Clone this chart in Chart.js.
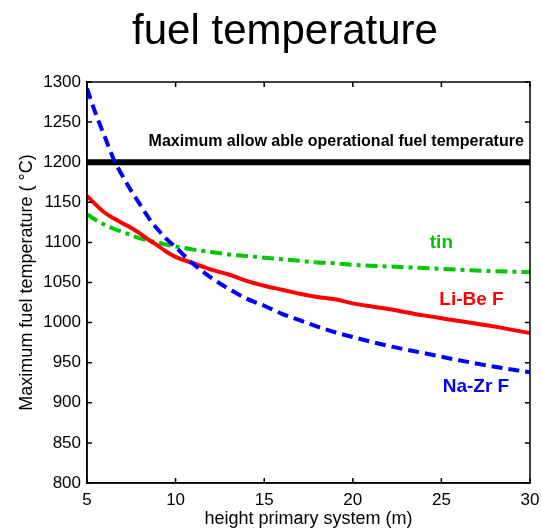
<!DOCTYPE html>
<html>
<head>
<meta charset="utf-8">
<script src="https://cdn.jsdelivr.net/npm/chart.js@4.4.1/dist/chart.umd.min.js"></script>
<style>
  html, body { margin: 0; padding: 0; background: #fff; }
  canvas { display: block; }
</style>
</head>
<body>
<canvas id="chart" width="541" height="532"></canvas>
<script>
// heights of the primary system (m)
const heights = [5, 5.5, 6, 6.5, 7, 7.5, 8, 8.5, 9, 9.5, 10, 11, 12, 13, 14, 15, 16, 17, 18, 19, 20, 22, 24, 26, 28, 30];

// maximum fuel temperature (C) per coolant
const naZrF = [1292, 1260, 1232, 1204, 1183, 1164, 1147, 1130, 1116, 1104, 1094, 1073, 1056, 1042, 1030, 1021, 1011, 1003, 995, 988, 982, 971, 962, 953, 945, 938];
const liBeF = [1158, 1147, 1137, 1130, 1124, 1118, 1111, 1103, 1096, 1088, 1082, 1074, 1066, 1060, 1052, 1046, 1041, 1036, 1032, 1029, 1024, 1017, 1009, 1002, 995, 987];
const tin = [1135, 1128, 1122, 1117, 1113, 1109, 1105, 1102, 1100, 1097, 1095, 1091, 1088, 1085, 1083, 1081, 1079, 1077, 1075, 1074, 1072, 1070, 1068, 1066, 1064, 1063];

const limitX = [5, 30];
const limitTemp = [1200, 1200];

const xTicks = [5, 10, 15, 20, 25, 30];
const yTicks = [800, 850, 900, 950, 1000, 1050, 1100, 1150, 1200, 1250, 1300];

const chartTitle = "fuel temperature";
const limitLabel = "Maximum allow able operational fuel temperature";

// curve labels, anchored in data units
const notes = [
  { text: "tin", x: 25.0, y: 1100, color: "#00c800" },
  { text: "Li-Be F", x: 26.7, y: 1029, color: "#ff0000" },
  { text: "Na-Zr F", x: 26.95, y: 920, color: "#0000ff" }
];

const font = "'Liberation Sans', Arial, Helvetica, sans-serif";

function pts(xs, ys) {
  return xs.map((x, i) => ({ x: x, y: ys[i] }));
}

const frame = {
  id: "frame",
  afterDraw(chart) {
    const ctx = chart.ctx;
    const a = chart.chartArea;
    const sx = chart.scales.x;
    const sy = chart.scales.y;
    ctx.save();
    ctx.strokeStyle = "#000";
    ctx.lineWidth = 1.5;
    ctx.strokeRect(a.left, a.top, a.right - a.left, a.bottom - a.top);
    ctx.beginPath();
    xTicks.forEach((v) => {
      const p = sx.getPixelForValue(v);
      ctx.moveTo(p, a.bottom); ctx.lineTo(p, a.bottom - 5);
      ctx.moveTo(p, a.top); ctx.lineTo(p, a.top + 5);
    });
    yTicks.forEach((v) => {
      const p = sy.getPixelForValue(v);
      ctx.moveTo(a.left, p); ctx.lineTo(a.left + 5, p);
      ctx.moveTo(a.right, p); ctx.lineTo(a.right - 5, p);
    });
    ctx.stroke();

    ctx.fillStyle = "#000";
    ctx.textBaseline = "alphabetic";
    ctx.textAlign = "center";
    ctx.font = "42px " + font;
    ctx.fillText(chartTitle, 285, 44);

    ctx.font = "bold 16px " + font;
    ctx.textAlign = "right";
    ctx.textBaseline = "middle";
    ctx.fillText(limitLabel, sx.getPixelForValue(29.65), sy.getPixelForValue(1226));

    ctx.font = "bold 19px " + font;
    ctx.textAlign = "center";
    notes.forEach((n) => {
      ctx.fillStyle = n.color;
      ctx.fillText(n.text, sx.getPixelForValue(n.x), sy.getPixelForValue(n.y));
    });
    ctx.restore();
  }
};

new Chart(document.getElementById("chart"), {
  type: "line",
  data: {
    datasets: [
      {
        label: "Na-Zr F",
        data: pts(heights, naZrF),
        borderColor: "#0000ff",
        borderWidth: 4,
        borderDash: [11, 6],
        cubicInterpolationMode: "monotone"
      },
      {
        label: "Li-Be F",
        data: pts(heights, liBeF),
        borderColor: "#ff0000",
        borderWidth: 4,
        cubicInterpolationMode: "monotone"
      },
      {
        label: "tin",
        data: pts(heights, tin),
        borderColor: "#00c800",
        borderWidth: 4,
        borderDash: [12, 5, 4, 5],
        cubicInterpolationMode: "monotone"
      },
      {
        label: "limit",
        data: pts(limitX, limitTemp),
        borderColor: "#000",
        borderWidth: 6
      }
    ]
  },
  options: {
    responsive: false,
    animation: false,
    layout: { padding: { top: 82, right: 11, left: 0, bottom: 0 } },
    elements: { point: { radius: 0 }, line: { fill: false } },
    plugins: { legend: { display: false }, tooltip: { enabled: false } },
    scales: {
      x: {
        type: "linear",
        min: 5,
        max: 30,
        afterBuildTicks: (s) => { s.ticks = xTicks.map((v) => ({ value: v })); },
        afterFit: (s) => { s.height = 49; s.paddingLeft = 0; s.paddingRight = 0; },
        grid: { display: false, drawTicks: false },
        border: { display: true, color: "#000", width: 1.5 },
        ticks: { color: "#000", padding: 7, font: { family: font, size: 17 }, callback: (v) => String(v) },
        title: {
          display: true,
          text: "height primary system (m)",
          color: "#000",
          padding: { top: 0, bottom: 2 },
          font: { family: font, size: 18 }
        }
      },
      y: {
        min: 800,
        max: 1300,
        afterBuildTicks: (s) => { s.ticks = yTicks.map((v) => ({ value: v })); },
        afterFit: (s) => { s.width = 87; s.paddingTop = 0; s.paddingBottom = 0; },
        grid: { display: false, drawTicks: false },
        border: { display: true, color: "#000", width: 1.5 },
        ticks: { color: "#000", padding: 6, font: { family: font, size: 17 }, callback: (v) => String(v) },
        title: {
          display: true,
          text: "Maximum fuel temperature ( \u00B0C)",
          color: "#000",
          padding: { top: 16, bottom: 0 },
          font: { family: font, size: 18 }
        }
      }
    }
  },
  plugins: [frame]
});
</script>
</body>
</html>
